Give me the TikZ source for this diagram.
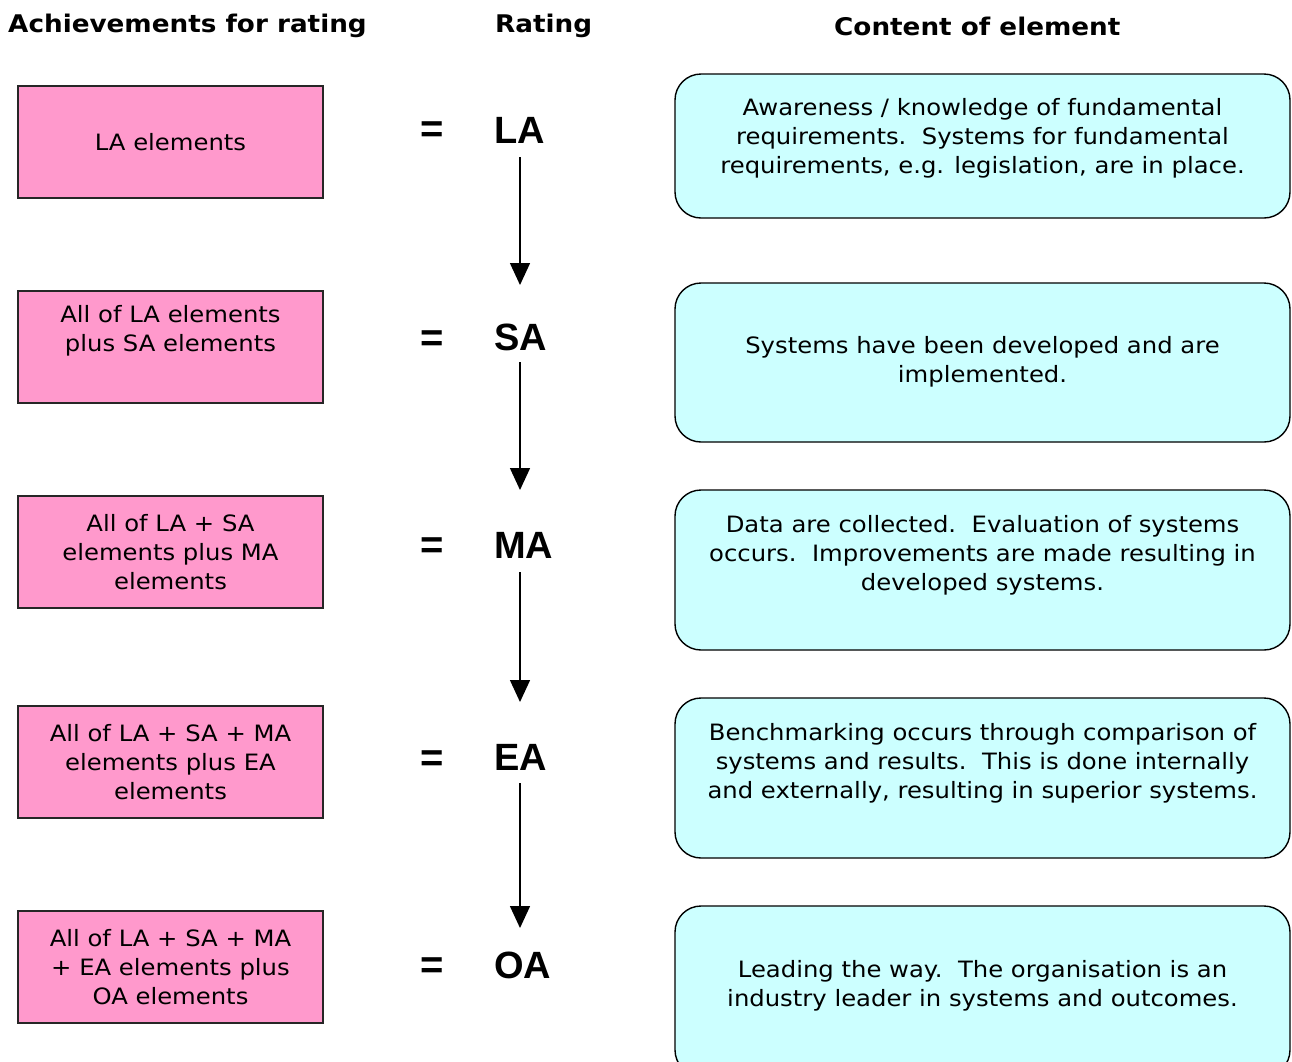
\documentclass[tikz,border=0pt]{standalone}
\usepackage{fontspec}
\setmainfont{DejaVu Sans}[FakeStretch=1.08]
\newfontfamily\ratefont{Liberation Sans}
\usetikzlibrary{arrows.meta}
\definecolor{pinkfill}{HTML}{FF99CC}
\definecolor{bluefill}{HTML}{CCFFFF}
\tikzset{
  head/.style={anchor=west,inner sep=0pt,font=\fontsize{24.3}{28}\selectfont\bfseries},
  pinkbox/.style={draw=black!85,line width=1.5pt,fill=pinkfill,minimum width=305pt,minimum height=112pt,inner sep=0pt,align=center,font=\fontsize{22.5}{29}\selectfont},
  bluebox/.style={draw=black,line width=1.4pt,fill=bluefill,rounded corners=26pt,minimum width=615pt,inner sep=0pt},
  bluetext/.style={align=center,inner sep=0pt,font=\fontsize{22.5}{29}\selectfont},
  eq/.style={inner sep=0pt,font=\ratefont\fontsize{40}{40}\selectfont\bfseries},
  rate/.style={anchor=west,inner sep=0pt,font=\ratefont\fontsize{38}{40}\selectfont\bfseries},
  arr/.style={line width=1.5pt,-{Triangle[width=20pt,length=22pt]}}
}
\begin{document}
\begin{tikzpicture}[x=1pt,y=-1pt]
\useasboundingbox (0,0) rectangle (1292,1061);
% headers
\node[head] (h1) at (8,26) {Achievements for rating};
\node[head] (h2) at (495,26) {Rating};
\node[head] (h3) at (834,26) {Content of element};
% pink boxes
\node[pinkbox] (p1) at (170.5,142) {LA elements};
\node[pinkbox] (p2) at (170.5,347) {All of LA elements\\plus SA elements\\\strut};
\node[pinkbox] (p3) at (170.5,552) {All of LA + SA\\elements plus MA\\elements};
\node[pinkbox] (p4) at (170.5,762) {All of LA + SA + MA\\elements plus EA\\elements};
\node[pinkbox] (p5) at (170.5,967) {All of LA + SA + MA\\+ EA elements plus\\OA elements};
% equals
\node[eq] (e1) at (432.5,132) {=};
\node[eq] (e2) at (432.5,341) {=};
\node[eq] (e3) at (432.5,548) {=};
\node[eq] (e4) at (432.5,761) {=};
\node[eq] (e5) at (432.5,968) {=};
% ratings
\node[rate] (LA) at (494,130) {LA};
\node[rate] (SA) at (494,337) {SA};
\node[rate] (MA) at (494,545) {MA};
\node[rate] (EA) at (494,757) {EA};
\node[rate] (OA) at (494,965) {OA};
% arrows
\draw[arr] ([xshift=26pt,yshift=-27pt]LA.west) -- ([xshift=26pt,yshift=52pt]SA.west);
\draw[arr] ([xshift=26pt,yshift=-25pt]SA.west) -- ([xshift=26pt,yshift=55pt]MA.west);
\draw[arr] ([xshift=26pt,yshift=-27pt]MA.west) -- ([xshift=26pt,yshift=55pt]EA.west);
\draw[arr] ([xshift=26pt,yshift=-26pt]EA.west) -- ([xshift=26pt,yshift=37pt]OA.west);
% blue boxes
\node[bluebox,minimum height=144pt] (c1) at (982.5,146) {};
\node[bluebox,minimum height=159pt] (c2) at (982.5,362.5) {};
\node[bluebox,minimum height=160pt] (c3) at (982.5,570) {};
\node[bluebox,minimum height=160pt] (c4) at (982.5,778) {};
\node[bluebox,minimum height=170pt] (c5) at (982.5,991) {};
\node[bluetext] (t1) at (982.5,138) {Awareness / knowledge of fundamental\\requirements.\ \ Systems for fundamental\\requirements, e.g. legislation, are in place.};
\node[bluetext] (t2) at (982.5,362) {Systems have been developed and are\\implemented.};
\node[bluetext] (t3) at (982.5,555) {Data are collected.\ \ Evaluation of systems\\occurs.\ \ Improvements are made resulting in\\developed systems.};
\node[bluetext] (t4) at (982.5,763) {Benchmarking occurs through comparison of\\systems and results.\ \ This is done internally\\and externally, resulting in superior systems.};
\node[bluetext] (t5) at (982.5,986) {Leading the way.\ \ The organisation is an\\industry leader in systems and outcomes.};
\end{tikzpicture}
\end{document}
